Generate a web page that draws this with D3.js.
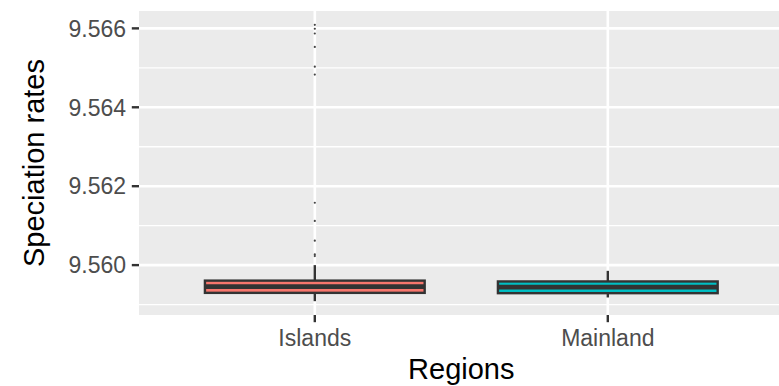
<!DOCTYPE html>
<html>
<head>
<meta charset="utf-8">
<script src="https://cdn.jsdelivr.net/npm/d3@7"></script>
<style>
  html, body { margin: 0; padding: 0; background: #ffffff; }
  svg { display: block; font-family: "Liberation Sans", Arial, Helvetica, sans-serif; }
</style>
</head>
<body>
<svg id="chart" width="779" height="386"></svg>
<script>
// Regions and their fill colours
const regions = ["Islands", "Mainland"];
const regionColors = ["#F8766D", "#00BFC4"];

// Box statistics per region: lower whisker, Q1, median, Q3, upper whisker
const lowerWhisker = [9.559086, 9.559180];
const q1 = [9.559297, 9.559289];
const median = [9.559454, 9.559442];
const q3 = [9.559607, 9.559586];
const upperWhisker = [9.560000, 9.559855];

// Outlying speciation rates (Islands only)
const islandOutliers = [9.56609, 9.56599, 9.56587, 9.56553, 9.56503, 9.56483,
                        9.56158, 9.56112, 9.56062, 9.56027, 9.56023];

// Axis ticks
const yTicks = [9.560, 9.562, 9.564, 9.566];
const yMinor = [9.559, 9.561, 9.563, 9.565];

const W = 779, H = 386;
const panel = { left: 139, top: 11, bottom: 315 };

const svg = d3.select("#chart");

// Continuous y domain with 5% expansion around the data
const allVals = lowerWhisker.concat(upperWhisker, islandOutliers);
const lo = d3.min(allVals), hi = d3.max(allVals);
const pad = (hi - lo) * 0.05;
const y = d3.scaleLinear().domain([lo - pad, hi + pad]).range([panel.bottom, panel.top]);

// Discrete x positions (1, 2) with 0.6 expansion on both sides
const x = d3.scaleLinear().domain([0.4, 2.6]).range([panel.left, panel.left + 2.2 * 293]);
const xPos = i => x(i + 1);
const boxHalf = 0.375 * (x(2) - x(1));
const panelRight = x(2.6);

// Panel background, clipped to the drawing area
svg.append("clipPath").attr("id", "pclip")
  .append("rect").attr("x", panel.left).attr("y", panel.top)
  .attr("width", W - panel.left).attr("height", panel.bottom - panel.top);

const g = svg.append("g").attr("clip-path", "url(#pclip)");
g.append("rect")
  .attr("x", panel.left).attr("y", panel.top)
  .attr("width", panelRight - panel.left).attr("height", panel.bottom - panel.top)
  .attr("fill", "#EBEBEB");

// Grid lines
g.selectAll(".minor").data(yMinor).join("line")
  .attr("x1", panel.left).attr("x2", panelRight)
  .attr("y1", d => y(d)).attr("y2", d => y(d))
  .attr("stroke", "#ffffff").attr("stroke-width", 1.3);
g.selectAll(".major").data(yTicks).join("line")
  .attr("x1", panel.left).attr("x2", panelRight)
  .attr("y1", d => y(d)).attr("y2", d => y(d))
  .attr("stroke", "#ffffff").attr("stroke-width", 2.6);
g.selectAll(".vmajor").data(regions).join("line")
  .attr("x1", (d, i) => xPos(i)).attr("x2", (d, i) => xPos(i))
  .attr("y1", panel.top).attr("y2", panel.bottom)
  .attr("stroke", "#ffffff").attr("stroke-width", 2.6);

// Whiskers, boxes and medians
const dark = "#333333";
regions.forEach((r, i) => {
  g.append("line")
    .attr("x1", xPos(i)).attr("x2", xPos(i))
    .attr("y1", y(upperWhisker[i])).attr("y2", y(q3[i]))
    .attr("stroke", dark).attr("stroke-width", 2.4);
  g.append("line")
    .attr("x1", xPos(i)).attr("x2", xPos(i))
    .attr("y1", y(q1[i])).attr("y2", y(lowerWhisker[i]))
    .attr("stroke", dark).attr("stroke-width", 2.4);
  g.append("rect")
    .attr("x", xPos(i) - boxHalf).attr("width", 2 * boxHalf)
    .attr("y", y(q3[i])).attr("height", y(q1[i]) - y(q3[i]))
    .attr("fill", regionColors[i])
    .attr("stroke", dark).attr("stroke-width", 2.4);
  g.append("line")
    .attr("x1", xPos(i) - boxHalf).attr("x2", xPos(i) + boxHalf)
    .attr("y1", y(median[i])).attr("y2", y(median[i]))
    .attr("stroke", dark).attr("stroke-width", 4.8);
});

// Outliers
g.selectAll(".out").data(islandOutliers).join("circle")
  .attr("cx", xPos(0)).attr("cy", d => y(d)).attr("r", 1.1)
  .attr("fill", "#444444");

// Y axis ticks and labels
const tickLen = 7.2;
const tickGap = 5.7;
const tickCol = "#333333";
const labCol = "#4D4D4D";
const tickFont = 23;
svg.selectAll(".ytick").data(yTicks).join("line")
  .attr("x1", panel.left - tickLen).attr("x2", panel.left)
  .attr("y1", d => y(d)).attr("y2", d => y(d))
  .attr("stroke", tickCol).attr("stroke-width", 2.4);
svg.selectAll(".ylab").data(yTicks).join("text")
  .attr("x", panel.left - tickLen - tickGap).attr("y", d => y(d))
  .attr("dy", "0.36em").attr("text-anchor", "end")
  .attr("font-size", tickFont).attr("fill", labCol)
  .text(d => d3.format(".3f")(d));

// X axis ticks and labels
svg.selectAll(".xtick").data(regions).join("line")
  .attr("x1", (d, i) => xPos(i)).attr("x2", (d, i) => xPos(i))
  .attr("y1", panel.bottom).attr("y2", panel.bottom + tickLen)
  .attr("stroke", tickCol).attr("stroke-width", 2.4);
svg.selectAll(".xlab").data(regions).join("text")
  .attr("x", (d, i) => xPos(i)).attr("y", 346)
  .attr("text-anchor", "middle")
  .attr("font-size", tickFont).attr("fill", labCol)
  .text(d => d);

// Axis titles
const titleFont = 29;
svg.append("text")
  .attr("x", (panel.left + panelRight) / 2).attr("y", 379)
  .attr("text-anchor", "middle").attr("font-size", titleFont).attr("fill", "#000")
  .text("Regions");
svg.append("text")
  .attr("transform", `translate(44,${(panel.top + panel.bottom) / 2}) rotate(-90)`)
  .attr("text-anchor", "middle").attr("font-size", titleFont).attr("fill", "#000")
  .text("Speciation rates");
</script>
</body>
</html>
